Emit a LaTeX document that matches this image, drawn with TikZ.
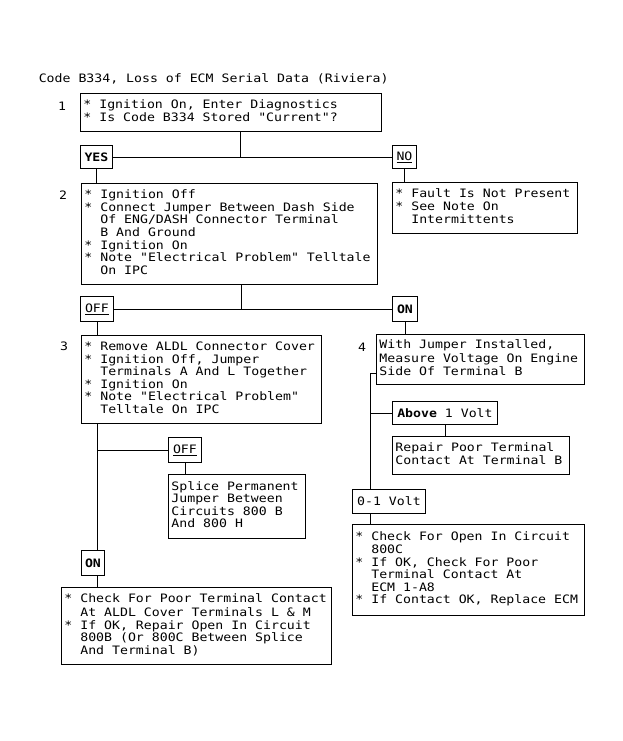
\documentclass[tikz,border=0pt]{standalone}
\usepackage{fontspec}
\setmainfont[FakeStretch=1.138, Ligatures=TeXOff]{DejaVu Sans Mono}
\usetikzlibrary{positioning}
\newcommand{\tab}{\hphantom{**}}
\newcommand{\itm}{*\ }
\tikzset{
  stepbox/.style={draw, anchor=north west, align=left, inner xsep=3pt, inner ysep=0pt,
    execute at begin node={\spaceskip=7.95pt\xspaceskip=7.95pt\strut},
    execute at end node=\strut},
  tagbox/.style={draw, anchor=north west, inner sep=0pt},
  stepno/.style={anchor=base},
}

\begin{document}
\begin{tikzpicture}[x=1pt, y=-1pt, line width=0.9pt,
    every node/.style={font=\fontsize{11.6pt}{12.6pt}\selectfont}]
    \useasboundingbox (0,0) rectangle (623,741);
    \node(title) [anchor=base west] at (35,83) {Code B334, Loss of ECM Serial Data (Riviera)};
    % step 1
    \node(n1) [stepno] at (62,111) {1};
    \node(b1) [stepbox, text width=295pt, minimum height=38pt] at (80,93)
      {\itm Ignition On, Enter Diagnostics\\\itm Is Code B334 Stored "Current"?};
    \node(yes) [tagbox, minimum width=32pt, minimum height=23pt] at (80,145) {\textbf{YES}};
    \node(no) [tagbox, minimum width=24pt, minimum height=23pt] at (392,145) {\underline{NO}};
    \node(fault) [stepbox, text width=179pt, minimum height=51pt] at (392,182)
      {\itm Fault Is Not Present\\\itm See Note On\\\tab Intermittents};
    % step 2
    \node(n2) [stepno] at (63,199.5) {2};
    \node(b2) [stepbox, text width=290pt, minimum height=101pt] at (81,183)
      {\itm Ignition Off\\\itm Connect Jumper Between Dash Side\\\tab Of ENG/DASH Connector Terminal\\
       \tab B And Ground\\\itm Ignition On\\\itm Note "Electrical Problem" Telltale\\\tab On IPC};
    \node(off1) [tagbox, minimum width=33pt, minimum height=25pt] at (80,296) {\underline{OFF}};
    \node(on1) [tagbox, minimum width=25pt, minimum height=25pt] at (392,296) {\textbf{ON}};
    % step 3
    \node(n3) [stepno] at (64,350) {3};
    \node(b3) [stepbox, text width=234pt, minimum height=88pt] at (81,335)
      {\itm Remove ALDL Connector Cover\\\itm Ignition Off, Jumper\\\tab Terminals A And L Together\\
       \itm Ignition On\\\itm Note "Electrical Problem"\\\tab Telltale On IPC};
    \node(off2) [tagbox, minimum width=33pt, minimum height=25pt] at (168,437) {\underline{OFF}};
    \node(splice) [stepbox, text width=131pt, minimum height=64pt] at (168,474)
      {Splice Permanent\\Jumper Between\\Circuits 800 B\\And 800 H};
    \node(on2) [tagbox, minimum width=23pt, minimum height=25pt] at (81,550) {\textbf{ON}};
    \node(fin) [stepbox, text width=264pt, minimum height=77pt] at (61,587)
      {\itm Check For Poor Terminal Contact\\\tab At ALDL Cover Terminals L \& M\\
       \itm If OK, Repair Open In Circuit\\\tab 800B (Or 800C Between Splice\\\tab And Terminal B)};
    % step 4
    \node(n4) [stepno] at (362,351) {4};
    \node(b4) [stepbox, text width=202pt, minimum height=50pt] at (376,334)
      {With Jumper Installed,\\Measure Voltage On Engine\\Side Of Terminal B};
    \node(above) [tagbox, minimum width=105pt, minimum height=23pt] at (392,401) {\textbf{Above} 1 Volt};
    \node(repair) [stepbox, text width=171pt, minimum height=38pt] at (392,436)
      {Repair Poor Terminal\\Contact At Terminal B};
    \node(volt) [tagbox, minimum width=73pt, minimum height=24pt] at (352,489) {0-1 Volt};
    \node(check) [stepbox, text width=226pt, minimum height=91pt] at (352,524)
      {\itm Check For Open In Circuit\\\tab 800C\\\itm If OK, Check For Poor\\\tab Terminal Contact At\\
       \tab ECM 1-A8\\\itm If Contact OK, Replace ECM};
    % connectors
    \coordinate(j1) at (240,156.5);
    \coordinate(j2) at (241,308.5);
    \coordinate(k4) at (370,373);
    \draw (b1.south -| j1) -- (j1);
    \draw (yes.east) -- (no.west);
    \draw (yes.south) -- (yes.south |- b2.north);
    \draw (no.south) -- (no.south |- fault.north);
    \draw (b2.south -| j2) -- (j2);
    \draw (off1.east) -- (on1.west);
    \draw (off1.south) -- (off1.south |- b3.north);
    \draw (on1.south) -- (on1.south |- b4.north);
    \draw (off1.south |- b3.south) -- (off1.south |- on2.north);
    \draw (off1.south |- off2.west) -- (off2.west);
    \draw (off2.south) -- (off2.south |- splice.north);
    \draw (off1.south |- on2.south) -- (off1.south |- fin.north);
    \draw (b4.west |- k4) -- (k4) -- (k4 |- volt.north);
    \draw (k4 |- above.west) -- (above.west);
    \draw (above.south) -- (above.south |- repair.north);
    \draw (k4 |- volt.south) -- (k4 |- check.north);
\end{tikzpicture}
\end{document}
